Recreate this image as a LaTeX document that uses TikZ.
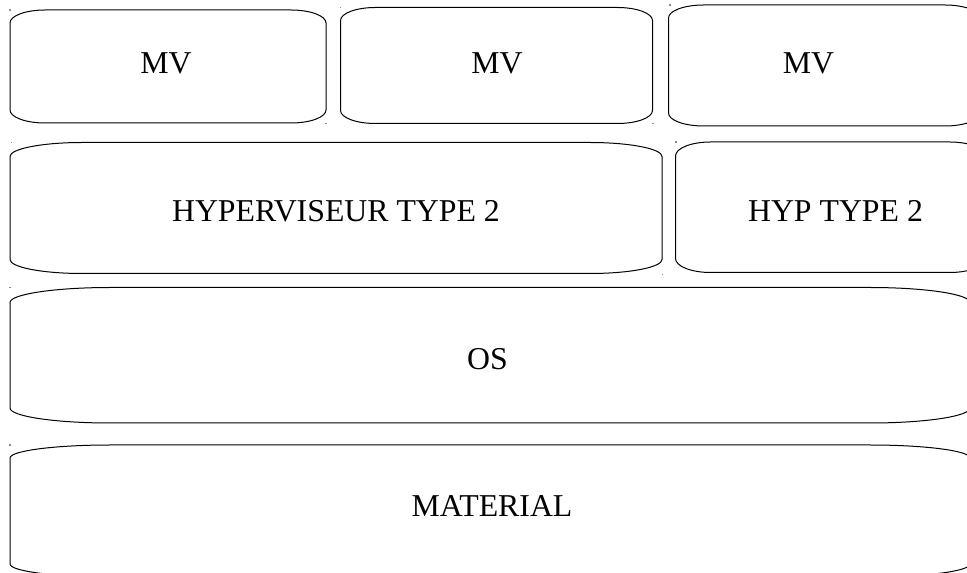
\documentclass[tikz,border=0pt]{standalone}
\usepackage{fontspec}
\setmainfont{Liberation Serif}

% Rounded box with elliptical corners, image-style coordinates (y grows downwards)
% #1 left, #2 top, #3 right, #4 bottom, #5 corner x radius, #6 corner y radius
\newcommand\ellbox[6]{%
  \draw[boxline]
    (#1,573-#2-#6) -- (#1,573-#4+#6)
    arc[start angle=180,end angle=270,x radius=#5,y radius=#6]
    -- (#3-#5,573-#4)
    arc[start angle=270,end angle=360,x radius=#5,y radius=#6]
    -- (#3,573-#2-#6)
    arc[start angle=0,end angle=90,x radius=#5,y radius=#6]
    -- (#1+#5,573-#2)
    arc[start angle=90,end angle=180,x radius=#5,y radius=#6]
    -- cycle;}

\tikzset{
  boxline/.style={draw=black,line width=1pt,line join=round},
  layertext/.style={anchor=base,inner sep=0pt,font=\fontsize{31.8}{37}\selectfont},
  handle/.style={fill=black!45,draw=none},
}

\begin{document}
\begin{tikzpicture}[x=1pt,y=1pt]
  \useasboundingbox (0,0) rectangle (967,573);
  \fill[white] (0,0) rectangle (967,573);
  \clip (0,0) rectangle (967,573);

  % virtual machines
  \ellbox{10}{10}{326}{123}{35}{13}
  \ellbox{340.5}{7.5}{652.5}{123.5}{35}{13}
  \ellbox{668.5}{5}{980}{126}{35}{13}
  % hypervisors
  \ellbox{10}{142.5}{662}{273.5}{72}{14}
  \ellbox{675.5}{142}{985}{272.5}{35}{14}
  % host system and hardware
  \ellbox{10}{287.5}{970}{423}{100}{15}
  \ellbox{10}{445}{970}{577}{100}{13}

  % labels
  \node[layertext] (mv1) at (166,573-74) {MV};
  \node[layertext] (mv2) at (497,573-74) {MV};
  \node[layertext] (mv3) at (808.5,573-74) {MV};
  \node[layertext] (hyp1) at (336,573-222) {HYPERVISEUR TYPE 2};
  \node[layertext] (hyp2) at (835.5,573-222) {HYP TYPE 2};
  \node[layertext] (os) at (487.5,573-370) {OS};
  \node[layertext] (hw) at (492,573-517) {MATERIAL};

  % selection handles left at the shape corners
  \foreach \px/\py in {10/10, 326/123.3, 340.3/7.3, 653/123.5, 670/5,
                       11.7/142.7, 662.5/274.5, 676/142, 10/287.3, 10/445}
    \fill[handle] (\px-0.6,573-\py-0.6) rectangle (\px+0.6,573-\py+0.6);
\end{tikzpicture}
\end{document}
